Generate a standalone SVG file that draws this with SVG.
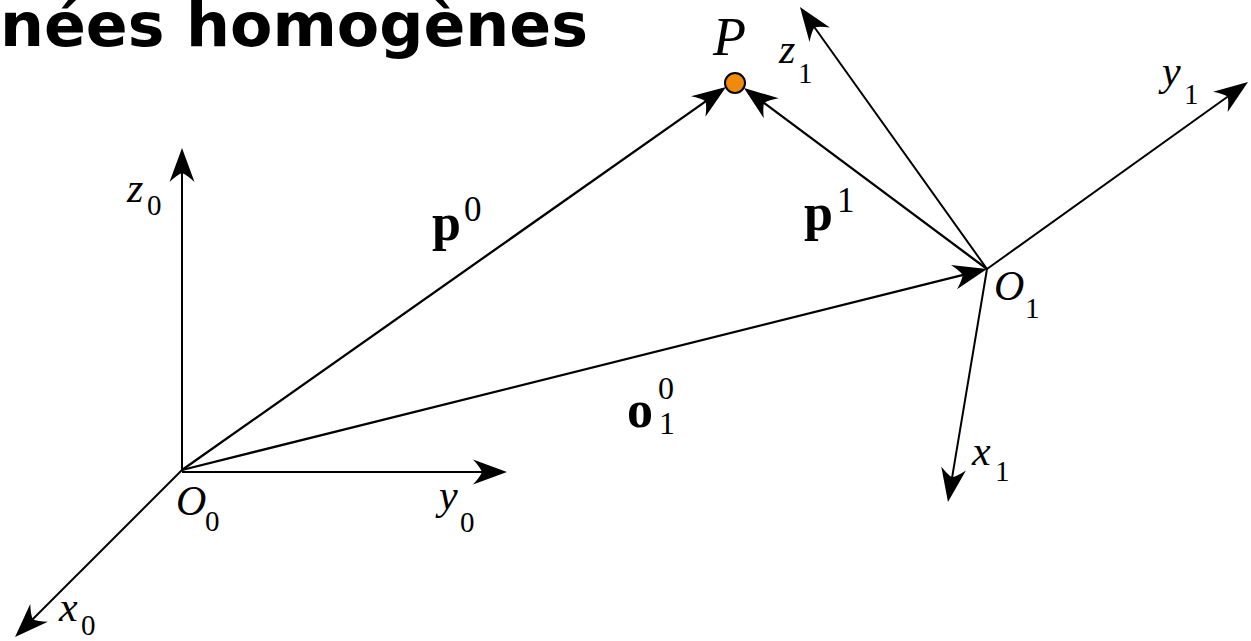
<svg xmlns="http://www.w3.org/2000/svg" width="1251" height="641" viewBox="0 0 1251 641">
<style>
.ax{stroke:#000;stroke-width:2;fill:none;marker-end:url(#arr)}
.vec{stroke:#000;stroke-width:2.3;fill:none;marker-end:url(#arr)}
.m{font-family:"Liberation Serif","Times New Roman",serif;font-style:italic;font-size:42px;fill:#000}
.sub{font-family:"Liberation Serif","Times New Roman",serif;font-size:29px;fill:#000}
.b{font-family:"Liberation Serif","Times New Roman",serif;font-weight:bold;font-size:52px;fill:#000}
.sup{font-family:"Liberation Serif","Times New Roman",serif;font-size:35px;fill:#000}
.sup2{font-family:"Liberation Serif","Times New Roman",serif;font-size:32px;fill:#000}
.title{font-family:"DejaVu Sans","Verdana",sans-serif;font-weight:bold;font-size:61px;fill:#000}
</style>
<defs>
<marker id="arr" markerUnits="userSpaceOnUse" viewBox="-36 -14 38 28" markerWidth="38" markerHeight="28" refX="-8" refY="0" orient="auto" overflow="visible">
<path d="M0,0 L-34,-12.5 Q-27,-5 -25,0 Q-27,5 -34,12.5 Z" fill="#000"/>
</marker>
</defs>
<text class="title" x="0" y="46" textLength="588" lengthAdjust="spacingAndGlyphs">nées homogènes</text>
<g id="connectors">
<line class="ax" x1="182" y1="470" x2="182" y2="156"/>
<line class="ax" x1="182" y1="472" x2="499" y2="472"/>
<line class="ax" x1="182" y1="470" x2="20.7" y2="631.3"/>
<line class="vec" x1="182" y1="470" x2="719.5" y2="91.6"/>
<line class="vec" x1="987" y1="269" x2="750.4" y2="92.8"/>
<line class="vec" x1="182" y1="470" x2="979.2" y2="270.9"/>
<line class="ax" x1="987" y1="269" x2="804.6" y2="13.5"/>
<line class="ax" x1="987" y1="269" x2="1241.5" y2="86.7"/>
<line class="ax" x1="987" y1="269" x2="949.3" y2="494.1"/>
</g>
<g id="P">
<circle cx="735" cy="83" r="10" fill="#F08A0A" stroke="#000" stroke-width="2"/>
<text class="m" x="713" y="55" style="font-size:54px">P</text>
</g>
<g id="O0"><text class="m" x="176" y="515">O</text><text class="sub" x="205" y="531">0</text></g>
<g id="z0"><text class="m" x="127" y="202">z</text><text class="sub" x="147" y="215">0</text></g>
<g id="y0"><text class="m" x="439" y="509">y</text><text class="sub" x="460" y="532">0</text></g>
<g id="x0"><text class="m" x="59" y="621">x</text><text class="sub" x="81" y="635">0</text></g>
<g id="O1"><text class="m" x="994" y="300">O</text><text class="sub" x="1025" y="318">1</text></g>
<g id="x1"><text class="m" x="972" y="465">x</text><text class="sub" x="995" y="481">1</text></g>
<g id="y1"><text class="m" x="1162" y="85">y</text><text class="sub" x="1184" y="104">1</text></g>
<g id="z1"><text class="m" x="779" y="63">z</text><text class="sub" x="798" y="83">1</text></g>
<g id="p0"><text class="b" x="432" y="240">p</text><text class="sup" x="464" y="221">0</text></g>
<g id="p1"><text class="b" x="804" y="230">p</text><text class="sup" x="837" y="212">1</text></g>
<g id="o10"><text class="b" x="627" y="427">o</text><text class="sup2" x="658" y="399">0</text><text class="sup2" x="659" y="434">1</text></g>
</svg>
